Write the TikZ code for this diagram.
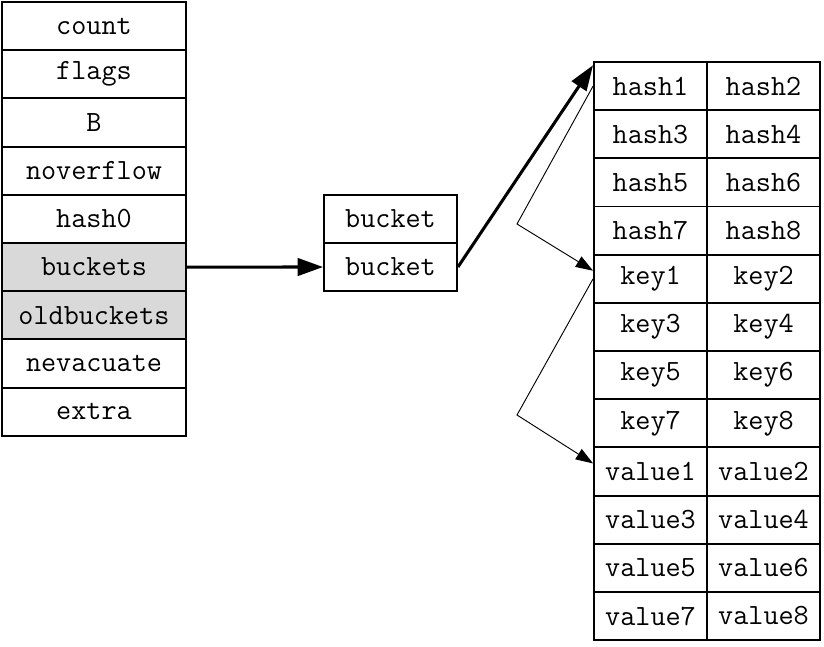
\documentclass[tikz,border=0pt]{standalone}
\usetikzlibrary{arrows.meta}
\tikzset{
  field/.style={draw, line width=1.4pt, minimum width=138pt, minimum height=36.15pt, inner sep=0pt, font=\ttfamily\fontsize{22}{26}\selectfont},
  hot/.style={field, fill=gray!30},
  bkt/.style={field, minimum width=99.75pt, minimum height=36pt},
  cell/.style={field, minimum width=84.75pt, minimum height=36.1pt},
  bigarrow/.style={line width=2.3pt, -{Triangle[length=19pt, width=13pt]}},
  thinarrow/.style={line width=0.7pt, -{Triangle[length=13pt, width=9pt]}}
}
\begin{document}
\begin{tikzpicture}[x=0.75pt,y=-0.75pt]
\useasboundingbox (0,0) rectangle (824,646);
% hmap
\node[field] (count) at (94,26.1) {count};
\node[field] (flags) at (94,74.3) {flags};
\node[field] (B) at (94,122.5) {B};
\node[field] (noverflow) at (94,170.7) {noverflow};
\node[field] (hash0) at (94,218.9) {hash0};
\node[hot] (buckets) at (94,267.1) {buckets};
\node[hot] (oldbuckets) at (94,315.3) {oldbuckets};
\node[field] (nevacuate) at (94,363.5) {nevacuate};
\node[field] (extra) at (94,411.7) {extra};
% bucket array
\node[bkt] (bucketa) at (390.5,219) {bucket};
\node[bkt] (bucketb) at (390.5,267) {bucket};
% bmap
\node[cell] (hash1) at (650.5,86.1) {hash1};
\node[cell] (hash2) at (763.5,86.1) {hash2};
\node[cell] (hash3) at (650.5,134.25) {hash3};
\node[cell] (hash4) at (763.5,134.25) {hash4};
\node[cell] (hash5) at (650.5,182.4) {hash5};
\node[cell] (hash6) at (763.5,182.4) {hash6};
\node[cell] (hash7) at (650.5,230.6) {hash7};
\node[cell] (hash8) at (763.5,230.6) {hash8};
\node[cell] (key1) at (650.5,278.8) {key1};
\node[cell] (key2) at (763.5,278.8) {key2};
\node[cell] (key3) at (650.5,326.9) {key3};
\node[cell] (key4) at (763.5,326.9) {key4};
\node[cell] (key5) at (650.5,375.1) {key5};
\node[cell] (key6) at (763.5,375.1) {key6};
\node[cell] (key7) at (650.5,423.3) {key7};
\node[cell] (key8) at (763.5,423.3) {key8};
\node[cell] (value1) at (650.5,471.5) {value1};
\node[cell] (value2) at (763.5,471.5) {value2};
\node[cell] (value3) at (650.5,519.6) {value3};
\node[cell] (value4) at (763.5,519.6) {value4};
\node[cell] (value5) at (650.5,567.8) {value5};
\node[cell] (value6) at (763.5,567.8) {value6};
\node[cell] (value7) at (650.5,616.0) {value7};
\node[cell] (value8) at (763.5,616.0) {value8};
% links
\coordinate (benda) at (517,224);
\coordinate (bendb) at (517,415);
\draw[bigarrow] (buckets.east) -- (bucketb.west);
\draw[bigarrow] (bucketb.east) -- (hash1.160);
\draw[thinarrow] (hash1.west) -- (benda) -- (key1.172);
\draw[thinarrow] (key1.west) -- (bendb) -- (value1.172);
\end{tikzpicture}
\end{document}
